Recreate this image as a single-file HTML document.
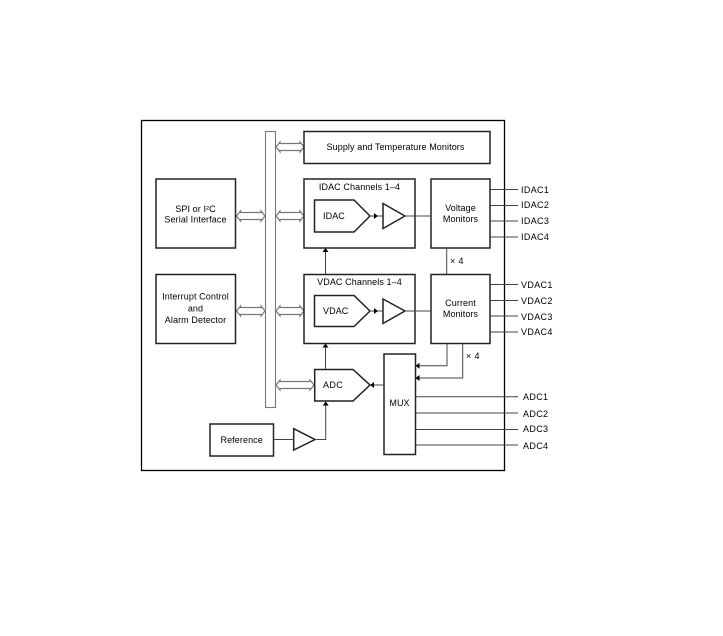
<!DOCTYPE html>
<html><head><meta charset="utf-8"><style>
html,body{margin:0;padding:0;background:#fff;width:723px;height:636px;overflow:hidden}
svg{display:block}
text{font-family:"Liberation Sans",Arial,sans-serif;font-size:9px;fill:#000;letter-spacing:.1px}
text.p{letter-spacing:.35px}
.b{fill:#fff;stroke:#222;stroke-width:1.5}
.l{fill:none;stroke:#444;stroke-width:1}
.a{fill:#fff;stroke:#777;stroke-width:1.2}
.h{fill:#000;stroke:none}
</style></head><body>
<svg width="723" height="636" viewBox="0 0 723 636" xmlns="http://www.w3.org/2000/svg">
<rect x="141.5" y="120.5" width="363" height="350" fill="#fff" stroke="#000" stroke-width="1.3"/>
<rect x="265.5" y="131.5" width="10" height="276" fill="#fff" stroke="#777" stroke-width="1.1"/>

<!-- wide arrows -->
<path class="a" d="M276 147 L280 142 V143.5 H300 V142 L304 147 L300 152 V150.5 H280 V152 Z"/>
<path class="a" d="M276 216 L280 211 V212.5 H300 V211 L304 216 L300 221 V219.5 H280 V221 Z"/>
<path class="a" d="M276 311 L280 306 V307.5 H300 V306 L304 311 L300 316 V314.5 H280 V316 Z"/>
<path class="a" d="M276 385 L280 380 V381.5 H310 V380 L314 385 L310 390 V388.5 H280 V390 Z"/>
<path class="a" d="M236.500 216 L240.500 211 V212.500 H261 V211 L265 216 L261 221 V219.500 H240.500 V221 Z"/>
<path class="a" d="M236.500 311 L240.500 306 V307.500 H261 V306 L265 311 L261 316 V314.500 H240.500 V316 Z"/>

<!-- boxes -->
<rect class="b" x="304" y="131.500" width="186" height="32"/>
<rect class="b" x="156" y="179" width="79.500" height="69"/>
<rect class="b" x="156" y="274.500" width="79.500" height="69"/>
<rect class="b" x="304" y="179" width="111" height="69"/>
<rect class="b" x="304" y="274.500" width="111" height="69"/>
<rect class="b" x="431" y="179" width="59" height="69"/>
<rect class="b" x="431" y="274.500" width="59" height="69"/>
<rect class="b" x="384" y="354" width="31.500" height="100.500"/>
<rect class="b" x="210" y="424" width="63.500" height="32"/>

<!-- pentagons -->
<path class="b" d="M314.500 200 H354 L370 216 L354 232 H314.500 Z"/>
<path class="b" d="M314.500 295.500 H354 L370 311 L354 326.500 H314.500 Z"/>
<path class="b" d="M314.700 369.500 H353 L370 385 L353 401 H314.700 Z"/>

<!-- triangles -->
<path class="b" d="M383 203.500 L405 216 L383 228.500 Z"/>
<path class="b" d="M383 299 L405 311 L383 323.500 Z"/>
<path class="b" d="M293.700 428.700 L315 439.500 L293.700 450 Z"/>

<!-- connectors -->
<path class="l" d="M370 216 H383 M405 216 H431 M370 311 H383 M405 311 H431 M325.500 274 V248 M325.500 369 V343.500 M446.700 248 V274 M273.500 439.500 H293.700 M315 439.500 H325.700 V401 M384 385 H370 M447 343.500 V365.700 H415.500 M462.700 343.500 V378 H415.500"/>
<path class="l" d="M490 189.500 H518 M490 205.500 H518 M490 221 H518 M490 237 H518 M490 284.500 H518 M490 300.500 H518 M490 316 H518 M490 332 H518 M415.500 396.700 H518 M415.500 413 H518 M415.500 429.500 H518 M415.500 445 H518"/>

<!-- arrowheads -->
<path class="h" d="M378 216 L374 213 V219 Z M378 311 L374 308 V314 Z"/>
<path class="h" d="M325.500 248 L322.500 252 H328.500 Z M325.500 343.500 L322.500 347.500 H328.500 Z M325.700 401.500 L322.700 405.500 H328.700 Z"/>
<path class="h" d="M370 385 L374 382 V388 Z M415.500 365.700 L419.500 362.700 V368.700 Z M415.500 378 L419.500 375 V381 Z"/>

<!-- labels -->
<text x="326.500" y="150">Supply and Temperature Monitors</text>
<text x="195.500" y="212" text-anchor="middle">SPI or I²C</text>
<text x="195.500" y="222.500" text-anchor="middle">Serial Interface</text>
<text x="195.500" y="299.500" text-anchor="middle">Interrupt Control</text>
<text x="195.500" y="311.500" text-anchor="middle">and</text>
<text x="195.500" y="323" text-anchor="middle">Alarm Detector</text>
<text x="359.500" y="190" text-anchor="middle">IDAC Channels 1–4</text>
<text x="359.500" y="285" text-anchor="middle">VDAC Channels 1–4</text>
<text x="323" y="219">IDAC</text>
<text x="323" y="314">VDAC</text>
<text x="460.500" y="211" text-anchor="middle">Voltage</text>
<text x="460.500" y="222" text-anchor="middle">Monitors</text>
<text x="460.500" y="306" text-anchor="middle">Current</text>
<text x="460.500" y="317" text-anchor="middle">Monitors</text>
<text x="450" y="264" class="p">× 4</text>
<text x="466" y="359" class="p">× 4</text>
<text x="323" y="388" class="p">ADC</text>
<text x="399.500" y="406" text-anchor="middle">MUX</text>
<text x="241.700" y="443" text-anchor="middle">Reference</text>
<text class="p" x="521" y="193">IDAC1</text>
<text class="p" x="521" y="208">IDAC2</text>
<text class="p" x="521" y="224">IDAC3</text>
<text class="p" x="521" y="240">IDAC4</text>
<text class="p" x="521" y="288">VDAC1</text>
<text class="p" x="521" y="304">VDAC2</text>
<text class="p" x="521" y="320">VDAC3</text>
<text class="p" x="521" y="335">VDAC4</text>
<text class="p" x="523" y="400">ADC1</text>
<text class="p" x="523" y="417">ADC2</text>
<text class="p" x="523" y="432">ADC3</text>
<text class="p" x="523" y="449">ADC4</text>
</svg>
</body></html>
